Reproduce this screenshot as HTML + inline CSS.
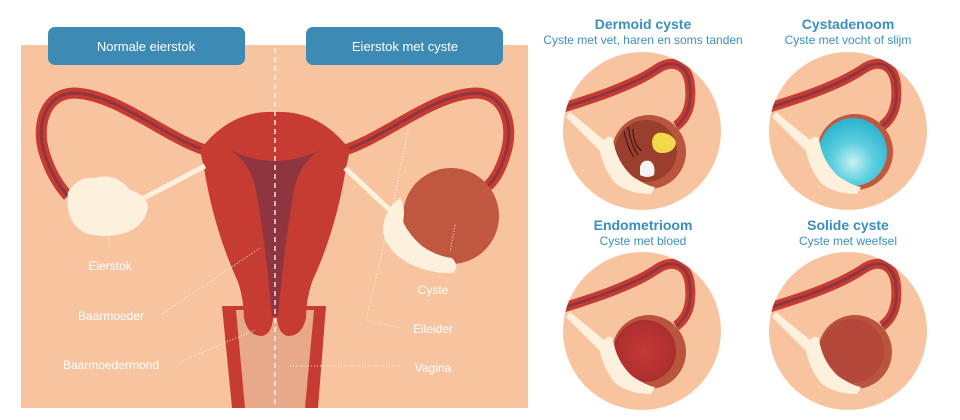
<!DOCTYPE html>
<html><head><meta charset="utf-8"><style>
html,body{margin:0;padding:0;background:#fff;width:960px;height:420px;overflow:hidden}
svg{display:block}
text{font-family:"Liberation Sans",sans-serif}
</style></head><body>
<svg width="960" height="420" viewBox="0 0 960 420" xmlns="http://www.w3.org/2000/svg">
<defs>
<clipPath id="cc"><circle cx="0" cy="0" r="79"/></clipPath>
<radialGradient id="blue" cx="0.5" cy="0.65" r="0.6"><stop offset="0" stop-color="#c8f0f4"/><stop offset="0.5" stop-color="#5ccfe0"/><stop offset="1" stop-color="#2fb6cf"/></radialGradient>
<radialGradient id="blood" cx="0.5" cy="0.5" r="0.6"><stop offset="0" stop-color="#c43a35"/><stop offset="1" stop-color="#a82b2e"/></radialGradient>
<g id="base">
<circle r="79" fill="#f8c4a0"/>
<g clip-path="url(#cc)">
<path d="M-90,-20 C-50,-32 -10,-45 15,-62 C30,-72 46,-68 48,-45 C50,-25 44,-12 34,-5" fill="none" stroke="#c63c33" stroke-width="10"/>
<path d="M-90,-20 C-50,-32 -10,-45 15,-62 C30,-72 46,-68 48,-45 C50,-25 44,-12 34,-5" fill="none" stroke="#8e3540" stroke-width="3"/>
</g>
</g>
<path id="cream" d="M-76,-14 L-72,-19 L-38,9 Q-33,3 -29,8 Q-26,30 -10,45 Q5,55 13,56 L9,63 Q-15,63 -28,51 Q-39,36 -42,20 Z" fill="#fdf0dc"/>
</defs>
<rect x="21" y="45" width="507" height="363" fill="#f8c4a0"/>
<!-- tubes -->
<path d="M212,152 C170,142 120,95 75,93 C45,93 36,125 44,152 C50,172 58,185 68,196" fill="none" stroke="#c63c33" stroke-width="11"/>
<path d="M212,152 C170,142 120,95 75,93 C45,93 36,125 44,152 C50,172 58,185 68,196" fill="none" stroke="#8e3540" stroke-width="3"/>
<path d="M338,152 C380,142 430,95 475,93 C505,93 514,125 506,152 C500,172 494,180 488,186" fill="none" stroke="#c63c33" stroke-width="11"/>
<path d="M338,152 C380,142 430,95 475,93 C505,93 514,125 506,152 C500,172 494,180 488,186" fill="none" stroke="#8e3540" stroke-width="3"/>
<!-- vagina -->
<path d="M222,306 L326,306 L318,408 L232,408 Z" fill="#c63c33"/>
<path d="M236,310 L314,310 L305,408 L245,408 Z" fill="#e8a98a"/>
<!-- uterus -->
<path d="M200,150 Q230,110 275,112 Q320,110 350,150 L346,168 Q336,230 312,282 Q306,300 306,318 Q302,336 288,336 Q278,334 277,318 L273,318 Q272,334 262,336 Q248,336 244,318 Q244,300 238,282 Q214,230 204,168 Z" fill="#c63c33"/>
<path d="M230,150 Q275,172 320,150 Q300,162 294,190 Q285,240 278,316 L272,316 Q265,240 256,190 Q250,162 230,150 Z" fill="#8e3540"/>
<!-- left ovary -->
<path d="M140,200 L205,166" stroke="#fdf0dc" stroke-width="5"/>
<path d="M68,192 Q78,176 95,178 Q115,172 130,190 Q147,195 148,207 Q145,226 125,233 Q105,239 85,233 Q64,222 68,192 Z" fill="#fdf0dc"/>
<!-- right cyst -->
<circle cx="451" cy="216" r="48" fill="#c0573f"/>
<path d="M345,168 L392,212" stroke="#fdf0dc" stroke-width="5"/>
<path d="M400,198 Q406,208 403,222 Q410,236 422,246 Q436,256 452,258 Q460,266 453,273 Q430,274 408,263 Q386,250 383,232 Q383,210 400,198 Z" fill="#fdf0dc"/>
<!-- dashed center -->
<line x1="275" y1="48" x2="275" y2="408" stroke="#fff" stroke-width="1.5" stroke-dasharray="5,4" opacity="0.85"/>
<!-- buttons -->
<rect x="48" y="27" width="197" height="38" rx="7" fill="#3d8ab5"/>
<rect x="306" y="27" width="197" height="38" rx="7" fill="#3d8ab5"/>
<text x="146" y="51" fill="#fff" font-size="13" text-anchor="middle">Normale eierstok</text>
<text x="405" y="51" fill="#fff" font-size="13" text-anchor="middle">Eierstok met cyste</text>
<!-- dotted leaders -->
<g stroke="#fff" stroke-width="1" stroke-dasharray="1,2" fill="none" opacity="0.9">
<path d="M108,235 L110,250"/>
<path d="M162,314 L260,248"/>
<path d="M180,362 L255,330"/>
<path d="M290,366 L400,366"/>
<path d="M408,130 L392,210 L366,320 L400,328"/>
<path d="M455,225 L450,252"/>
</g>
<g fill="#fff" font-size="12" text-anchor="middle">
<text x="110" y="270">Eierstok</text>
<text x="111" y="320">Baarmoeder</text>
<text x="111" y="369">Baarmoedermond</text>
<text x="433" y="294">Cyste</text>
<text x="433" y="333">Eileider</text>
<text x="433" y="372">Vagina</text>
</g>
<!-- right titles -->
<g fill="#3b8fc0" text-anchor="middle">
<text x="643" y="29" font-size="14" font-weight="bold">Dermoid cyste</text>
<text x="643" y="44" font-size="12">Cyste met vet, haren en soms tanden</text>
<text x="848" y="29" font-size="14" font-weight="bold">Cystadenoom</text>
<text x="848" y="44" font-size="12">Cyste met vocht of slijm</text>
<text x="643" y="230" font-size="14" font-weight="bold">Endometrioom</text>
<text x="643" y="245" font-size="12">Cyste met bloed</text>
<text x="848" y="230" font-size="14" font-weight="bold">Solide cyste</text>
<text x="848" y="245" font-size="12">Cyste met weefsel</text>
</g>
<!-- circle 1 dermoid -->
<g transform="translate(642,131)">
<use href="#base"/>
<circle cx="7" cy="21" r="37" fill="#b8553c"/>
<circle cx="4" cy="20" r="31" fill="#9a3f2e"/>
<path d="M-18,0 Q-14,18 -8,26 M-14,-4 Q-11,14 -4,24 M-9,-2 Q-9,14 0,20" stroke="#4a1a18" stroke-width="1.3" fill="none"/>
<path d="M10,10 Q12,0 22,2 Q32,4 34,12 Q32,22 20,22 Q10,22 10,10 Z" fill="#f2d94a"/>
<path d="M-2,36 Q0,28 8,30 Q14,34 12,44 Q6,48 -2,44 Z" fill="#f4f4f4"/>
<use href="#cream"/>
</g>
<!-- circle 2 -->
<g transform="translate(848,131)">
<use href="#base"/>
<circle cx="7" cy="21" r="38" fill="#c0573f"/>
<circle cx="5" cy="21" r="34" fill="url(#blue)"/>
<use href="#cream"/>
</g>
<!-- circle 3 -->
<g transform="translate(642,331)">
<use href="#base"/>
<circle cx="7" cy="21" r="37" fill="#b8553c"/>
<circle cx="3" cy="20" r="31" fill="url(#blood)"/>
<use href="#cream"/>
</g>
<!-- circle 4 -->
<g transform="translate(848,331)">
<use href="#base"/>
<circle cx="7" cy="21" r="37" fill="#b8553c"/>
<circle cx="4" cy="20" r="32" fill="#b2473a"/>
<use href="#cream"/>
</g>
</svg>
</body></html>
